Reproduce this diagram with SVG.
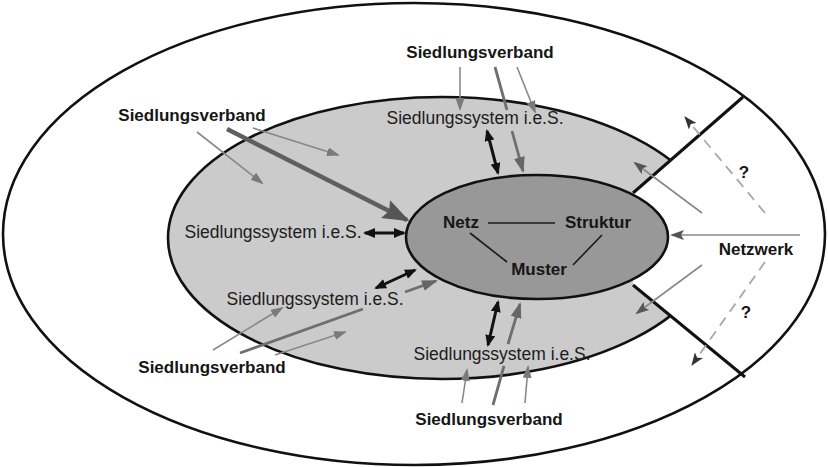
<svg xmlns="http://www.w3.org/2000/svg" width="828" height="467" viewBox="0 0 828 467">
  <style>
    .ring { stroke: #111; stroke-width: 2.6; }
    .bold { font-family: "Liberation Sans", Arial, sans-serif; font-weight: bold; font-size: 17px; fill: #161616; }
    .reg { font-family: "Liberation Sans", Arial, sans-serif; font-size: 17.5px; fill: #1c1c1c; }
    .thin { stroke: #888; stroke-width: 1.6; fill: none; }
    .med { stroke: #6e6e6e; stroke-width: 2.8; fill: none; }
    .thick { stroke: #5f5f5f; stroke-width: 4.5; fill: none; }
    .dbl { stroke: #111; stroke-width: 3; fill: none; }
    .dash { stroke: #a8a8a8; stroke-width: 1.8; stroke-dasharray: 10 7; fill: none; }
    .rel { stroke: #1a1a1a; stroke-width: 1.6; }
  </style>
  <defs>
    <marker id="hThin" markerUnits="userSpaceOnUse" markerWidth="13" markerHeight="9" refX="11" refY="4.5" orient="auto">
      <path d="M0,0 L13,4.5 L0,9 z" fill="#7a7a7a"/>
    </marker>
    <marker id="hMed" markerUnits="userSpaceOnUse" markerWidth="16" markerHeight="11" refX="14" refY="5.5" orient="auto">
      <path d="M0,0 L16,5.5 L0,11 z" fill="#666"/>
    </marker>
    <marker id="hThick" markerUnits="userSpaceOnUse" markerWidth="27" markerHeight="20" refX="24" refY="10" orient="auto">
      <path d="M0,0 L27,10 L0,20 L4,10 z" fill="#555"/>
    </marker>
    <marker id="hBlack" markerUnits="userSpaceOnUse" markerWidth="12" markerHeight="10" refX="10" refY="5" orient="auto-start-reverse">
      <path d="M0,0 L12,5 L0,10 z" fill="#111"/>
    </marker>
    <marker id="hDash" markerUnits="userSpaceOnUse" markerWidth="13" markerHeight="10" refX="12" refY="5" orient="auto">
      <path d="M0,0 L13,5 L0,10 L3,5 z" fill="#333"/>
    </marker>
    <marker id="hNet" markerUnits="userSpaceOnUse" markerWidth="14" markerHeight="10" refX="12" refY="5" orient="auto">
      <path d="M0,0 L14,5 L0,10 L3,5 z" fill="#555"/>
    </marker>
  </defs>

  <rect width="828" height="467" fill="#fff"/>

  <!-- Rings -->
  <g id="ring-siedlungssystem">
    <ellipse cx="442" cy="238" rx="274" ry="141" fill="#cbcbcb" class="ring"/>
  </g>
  <g id="sector-netzwerk">
    <polygon points="633,193 743,97 830,97 830,377 745,377 633,285" fill="#fff"/>
  </g>
  <g id="ring-siedlungsverband">
    <ellipse cx="414" cy="234" rx="411" ry="231" fill="none" class="ring"/>
  </g>
  <g id="core">
    <ellipse cx="537" cy="237" rx="131" ry="62" fill="#989898" class="ring"/>
  </g>
  <g id="sector-lines">
    <line x1="633" y1="193" x2="743" y2="97" stroke="#111" stroke-width="3"/>
    <line x1="633" y1="285" x2="745" y2="377" stroke="#111" stroke-width="3"/>
  </g>

  <!-- Connectors -->
  <g id="connectors">
    <!-- core relations -->
    <line class="rel" x1="488" y1="223" x2="555" y2="223"/>
    <line class="rel" x1="470" y1="233" x2="507" y2="262"/>
    <line class="rel" x1="602" y1="235" x2="573" y2="265"/>

    <!-- left Siedlungsverband -->
    <line class="thin" x1="197" y1="132" x2="262" y2="183" marker-end="url(#hThin)"/>
    <line class="thick" x1="227" y1="129" x2="407" y2="220" marker-end="url(#hThick)"/>
    <line class="thin" x1="253" y1="128" x2="338" y2="155" marker-end="url(#hThin)"/>
    <line class="dbl" x1="365" y1="233" x2="404" y2="233" marker-start="url(#hBlack)" marker-end="url(#hBlack)"/>

    <!-- top Siedlungsverband -->
    <line class="thin" x1="460" y1="67" x2="460" y2="109" marker-end="url(#hThin)"/>
    <line class="med" x1="495" y1="67" x2="507" y2="110"/>
    <line class="med" x1="512" y1="131" x2="523" y2="171" marker-end="url(#hMed)"/>
    <line class="thin" x1="517" y1="67" x2="535" y2="112" marker-end="url(#hThin)"/>
    <line class="dbl" x1="487" y1="131" x2="498" y2="173" marker-start="url(#hBlack)" marker-end="url(#hBlack)"/>

    <!-- lower-left Siedlungsverband -->
    <line class="dbl" x1="376" y1="288" x2="415" y2="270" marker-start="url(#hBlack)" marker-end="url(#hBlack)"/>
    <line class="med" x1="240" y1="353" x2="363" y2="309"/>
    <line class="med" x1="405" y1="292" x2="436" y2="281" marker-end="url(#hMed)"/>
    <line class="thin" x1="213" y1="350" x2="282" y2="308" marker-end="url(#hThin)"/>
    <line class="thin" x1="275" y1="355" x2="345" y2="332" marker-end="url(#hThin)"/>

    <!-- bottom Siedlungsverband -->
    <line class="dbl" x1="498" y1="302" x2="488" y2="345" marker-start="url(#hBlack)" marker-end="url(#hBlack)"/>
    <line class="med" x1="493" y1="405" x2="504" y2="366"/>
    <line class="med" x1="508" y1="344" x2="520" y2="304" marker-end="url(#hMed)"/>
    <line class="thin" x1="462" y1="403" x2="467" y2="370" marker-end="url(#hThin)"/>
    <line class="thin" x1="525" y1="403" x2="528" y2="367" marker-end="url(#hThin)"/>

    <!-- Netzwerk -->
    <line class="thin" x1="800" y1="235" x2="672" y2="235" stroke="#6a6a6a" marker-end="url(#hNet)"/>
    <line class="thin" x1="702" y1="213" x2="635" y2="163" marker-end="url(#hNet)"/>
    <line class="thin" x1="702" y1="265" x2="637" y2="313" marker-end="url(#hNet)"/>
    <line class="dash" x1="765" y1="213" x2="685" y2="117" marker-end="url(#hDash)"/>
    <line class="dash" x1="765" y1="262" x2="692" y2="365" marker-end="url(#hDash)"/>
  </g>

  <!-- Labels -->
  <g id="label-verband-top"><text class="bold" x="480" y="58" text-anchor="middle">Siedlungsverband</text></g>
  <g id="label-system-top"><text class="reg" x="475" y="124" text-anchor="middle">Siedlungssystem i.e.S.</text></g>
  <g id="label-verband-left"><text class="bold" x="192" y="121" text-anchor="middle">Siedlungsverband</text></g>
  <g id="label-system-left"><text class="reg" x="273" y="238" text-anchor="middle">Siedlungssystem i.e.S.</text></g>
  <g id="label-system-lowerleft"><text class="reg" x="315" y="305" text-anchor="middle">Siedlungssystem i.e.S.</text></g>
  <g id="label-verband-lowerleft"><text class="bold" x="212" y="373" text-anchor="middle">Siedlungsverband</text></g>
  <g id="label-system-bottom"><text class="reg" x="502" y="360" text-anchor="middle">Siedlungssystem i.e.S.</text></g>
  <g id="label-verband-bottom"><text class="bold" x="489" y="425" text-anchor="middle">Siedlungsverband</text></g>
  <g id="label-netzwerk"><text class="bold" x="756" y="255" text-anchor="middle">Netzwerk</text></g>
  <g id="node-netz"><text class="bold" x="461" y="228" text-anchor="middle">Netz</text></g>
  <g id="node-struktur"><text class="bold" x="598" y="228" text-anchor="middle">Struktur</text></g>
  <g id="node-muster"><text class="bold" x="539" y="275" text-anchor="middle">Muster</text></g>
  <g id="q-top"><text class="bold" x="744" y="178" text-anchor="middle" font-size="15">?</text></g>
  <g id="q-bottom"><text class="bold" x="746" y="318" text-anchor="middle" font-size="15">?</text></g>
</svg>
